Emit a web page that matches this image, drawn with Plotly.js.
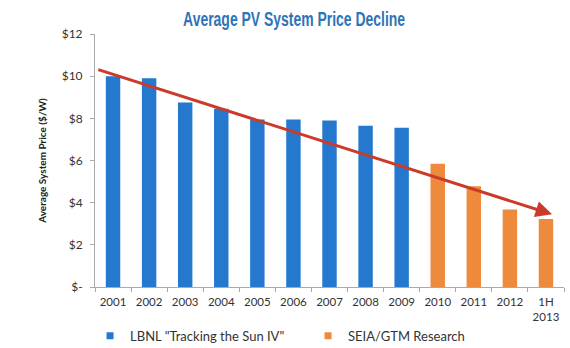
<!DOCTYPE html>
<html><head><meta charset="utf-8">
<script src="https://cdn.plot.ly/plotly-3.0.1.min.js"></script>
<style>html,body{margin:0;padding:0;background:#fff}#c{width:570px;height:348px}</style>
</head><body><div id="c"></div>
<script>
const categories = ["2001","2002","2003","2004","2005","2006","2007","2008","2009","2010","2011","2012","1H<br>2013"];
const lbnlYears = ["2001","2002","2003","2004","2005","2006","2007","2008","2009"];
const lbnlValues = [10.0, 9.9, 8.75, 8.45, 7.95, 7.95, 7.9, 7.65, 7.55];
const seiaYears = ["2010","2011","2012","1H<br>2013"];
const seiaValues = [5.85, 4.78, 3.67, 3.22];
const yTickVals = [0,2,4,6,8,10,12];
const yTickText = ["$-","$2","$4","$6","$8","$10","$12"];
const trendStart = {x: -0.45, y: 10.33};
const trendEnd = {x: 12.17, y: 3.45};

const blue = "#2479cf", orange = "#ee8a3c";
const font = "Lato, 'Open Sans', sans-serif";
const data = [
  {type:"bar", name:'LBNL "Tracking the Sun IV"', x:lbnlYears, y:lbnlValues, width:0.4,
   marker:{color:blue}, showlegend:false},
  {type:"bar", name:"SEIA/GTM Research", x:seiaYears, y:seiaValues, width:0.4,
   marker:{color:orange}, showlegend:false},
  {type:"scatter", mode:"markers", name:'LBNL "Tracking the Sun IV"', x:[null], y:[null],
   marker:{symbol:"square", size:7, color:blue}},
  {type:"scatter", mode:"markers", name:"SEIA/GTM Research", x:[null], y:[null],
   marker:{symbol:"square", size:7, color:orange}}
];
const layout = {
  width:570, height:348,
  margin:{l:95, r:6, t:34, b:61},
  paper_bgcolor:"#fff", plot_bgcolor:"#fff",
  barmode:"overlay",
  font:{family:font, size:12, color:"#333"},
  title:{text:"Average PV System Price Decline", x:0.516, xanchor:"center", y:0.945, yanchor:"middle",
    font:{family:"'Liberation Sans', Arial, sans-serif", weight:700, size:20, color:"#2f74b8"}},
  xaxis:{type:"category", categoryorder:"array", categoryarray:categories, range:[-0.5,12.5],
    showline:true, linecolor:"#aaa", linewidth:1, ticks:"outside", tickson:"boundaries", ticklen:4, tickcolor:"#aaa",
    showgrid:false, tickangle:0, ticklabelstandoff:4, tickfont:{size:11.5, color:"#333"}},
  yaxis:{range:[0,12], tickvals:yTickVals, ticktext:yTickText, showline:true, linecolor:"#aaa", linewidth:1,
    ticks:"outside", ticklen:4, tickcolor:"#aaa", showgrid:false, zeroline:false, ticklabelstandoff:5,
    tickfont:{size:12, color:"#333"},
    title:{text:"<b>Average System Price ($/W)</b>", font:{size:10, color:"#222"}, standoff:13}},
  legend:{orientation:"h", x:0.158, xanchor:"left", xref:"container", yref:"container", y:0.035, yanchor:"middle",
    font:{size:13, color:"#333"}, itemwidth:30, tracegroupgap:0, entrywidth:173},
  showlegend:true,
  annotations:[{x:trendEnd.x, y:trendEnd.y, ax:trendStart.x, ay:trendStart.y, xref:"x", yref:"y", axref:"x", ayref:"y",
    showarrow:true, arrowhead:2, arrowsize:1.1, arrowwidth:3, arrowcolor:"#cc3a2a", text:""}]
};
Plotly.newPlot("c", data, layout, {displayModeBar:false, staticPlot:true}).then(() => {
  const t = document.querySelector(".gtitle");
  if (t) { t.setAttribute("textLength", "222"); t.setAttribute("lengthAdjust", "spacingAndGlyphs"); }
});
</script></body></html>
